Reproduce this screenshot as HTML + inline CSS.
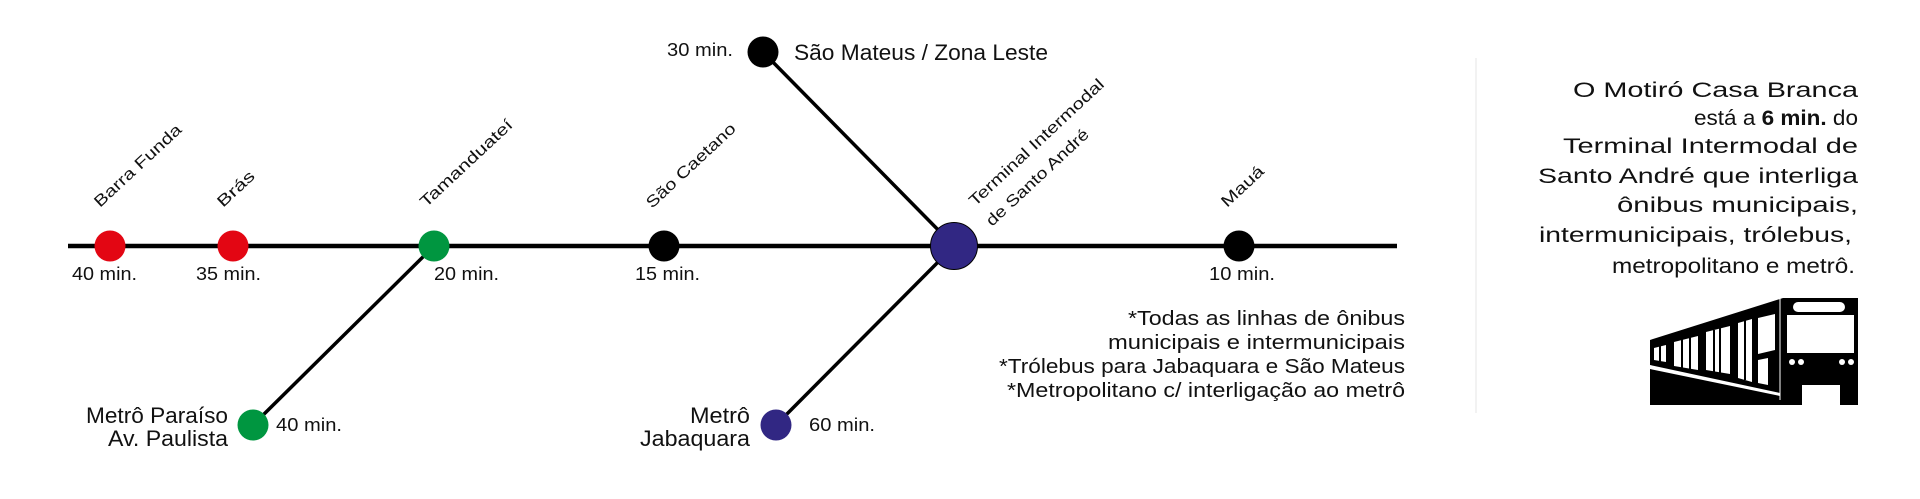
<!DOCTYPE html>
<html><head><meta charset="utf-8"><style>
html,body{margin:0;padding:0;background:#fff;}
svg{display:block;}
text{font-family:"Liberation Sans",sans-serif;fill:#111;}
</style></head><body>
<svg width="1920" height="499" viewBox="0 0 1920 499" xmlns="http://www.w3.org/2000/svg">
<g stroke="#000" stroke-width="3.5">
<line x1="434" y1="246" x2="253" y2="425"/>
<line x1="954" y1="246" x2="776" y2="425"/>
<line x1="954" y1="246" x2="763" y2="52"/>
</g>
<line x1="68" y1="246" x2="1397" y2="246" stroke="#000" stroke-width="4.5"/>
<circle cx="110" cy="246" r="15.5" fill="#e30613"/>
<circle cx="233" cy="246" r="15.5" fill="#e30613"/>
<circle cx="434" cy="246" r="15.5" fill="#009640"/>
<circle cx="664" cy="246" r="15.5" fill="#000"/>
<circle cx="1239" cy="246" r="15.5" fill="#000"/>
<circle cx="763" cy="52" r="15.5" fill="#000"/>
<circle cx="253" cy="425" r="15.5" fill="#009640"/>
<circle cx="776" cy="425" r="15.5" fill="#312783"/>
<circle cx="954" cy="246" r="23.5" fill="#312783" stroke="#000" stroke-width="1"/>

<g font-size="18">
<text x="72" y="280" textLength="65" lengthAdjust="spacingAndGlyphs">40 min.</text>
<text x="196" y="280" textLength="65" lengthAdjust="spacingAndGlyphs">35 min.</text>
<text x="434" y="280" textLength="65" lengthAdjust="spacingAndGlyphs">20 min.</text>
<text x="635" y="280" textLength="65" lengthAdjust="spacingAndGlyphs">15 min.</text>
<text x="1209" y="280" textLength="66" lengthAdjust="spacingAndGlyphs">10 min.</text>
<text x="667" y="56" textLength="66" lengthAdjust="spacingAndGlyphs">30 min.</text>
<text x="276" y="431" textLength="66" lengthAdjust="spacingAndGlyphs">40 min.</text>
<text x="809" y="431" textLength="66" lengthAdjust="spacingAndGlyphs">60 min.</text>
</g>
<g font-size="22">
<text x="794" y="60" textLength="254" lengthAdjust="spacingAndGlyphs">São Mateus / Zona Leste</text>
<text x="228" y="423" text-anchor="end" textLength="142" lengthAdjust="spacingAndGlyphs">Metrô Paraíso</text>
<text x="228" y="446" text-anchor="end" textLength="120" lengthAdjust="spacingAndGlyphs">Av. Paulista</text>
<text x="750" y="423" text-anchor="end" textLength="60" lengthAdjust="spacingAndGlyphs">Metrô</text>
<text x="750" y="446" text-anchor="end" textLength="110" lengthAdjust="spacingAndGlyphs">Jabaquara</text>
</g>
<g font-size="16" fill="#222">
<text transform="translate(100,208) rotate(-43)" textLength="113" lengthAdjust="spacingAndGlyphs">Barra Funda</text>
<text transform="translate(223,208) rotate(-43)" textLength="45" lengthAdjust="spacingAndGlyphs">Brás</text>
<text transform="translate(426,208) rotate(-43)" textLength="120" lengthAdjust="spacingAndGlyphs">Tamanduateí</text>
<text transform="translate(652,209) rotate(-43)" textLength="116" lengthAdjust="spacingAndGlyphs">São Caetano</text>
<text transform="translate(1227,208) rotate(-43)" textLength="52" lengthAdjust="spacingAndGlyphs">Mauá</text>
<text transform="translate(975,207) rotate(-43)" textLength="178" lengthAdjust="spacingAndGlyphs">Terminal Intermodal</text>
<text transform="translate(992,227) rotate(-43)" textLength="134" lengthAdjust="spacingAndGlyphs">de Santo André</text>
</g>
<g font-size="20" text-anchor="end">
<text x="1405" y="325" textLength="277" lengthAdjust="spacingAndGlyphs">*Todas as linhas de ônibus</text>
<text x="1405" y="349" textLength="297" lengthAdjust="spacingAndGlyphs">municipais e intermunicipais</text>
<text x="1405" y="373" textLength="406" lengthAdjust="spacingAndGlyphs">*Trólebus para Jabaquara e São Mateus</text>
<text x="1405" y="397" textLength="398" lengthAdjust="spacingAndGlyphs">*Metropolitano c/ interligação ao metrô</text>
</g>
<line x1="1476" y1="58" x2="1476" y2="413" stroke="#e4e4e4" stroke-width="1"/>
<g font-size="21" text-anchor="end">
<text x="1858" y="97" textLength="285" lengthAdjust="spacingAndGlyphs">O Motiró Casa Branca</text>
<text x="1858" y="125" textLength="164" lengthAdjust="spacingAndGlyphs">está a <tspan font-weight="bold">6 min.</tspan> do</text>
<text x="1858" y="153" textLength="295" lengthAdjust="spacingAndGlyphs">Terminal Intermodal de</text>
<text x="1858" y="183" textLength="320" lengthAdjust="spacingAndGlyphs">Santo André que interliga</text>
<text x="1858" y="212" textLength="241" lengthAdjust="spacingAndGlyphs">ônibus municipais,</text>
<text x="1852" y="242" textLength="313" lengthAdjust="spacingAndGlyphs">intermunicipais, trólebus,</text>
<text x="1855" y="273" textLength="243" lengthAdjust="spacingAndGlyphs">metropolitano e metrô.</text>
</g>
<g transform="translate(1640,290)">
<polygon points="10,50 143,8 218,8 218,115 10,115" fill="#000"/>
<polygon points="10,75 140,103 140,106 10,79" fill="#fff"/>
<rect x="147" y="25" width="67" height="38" fill="#fff"/>
<rect x="153" y="12" width="52" height="10" rx="5" fill="#fff"/>
<circle cx="152" cy="72" r="3" fill="#fff"/><circle cx="161" cy="72" r="3" fill="#fff"/>
<circle cx="202" cy="72" r="3" fill="#fff"/><circle cx="211" cy="72" r="3" fill="#fff"/>
<rect x="162" y="95" width="38" height="20" fill="#fff"/>
<line x1="140" y1="8" x2="140" y2="110" stroke="#fff" stroke-width="1"/>
<g fill="#fff">
<polygon points="14,58 26,55 26,72 14,70"/>
<polygon points="34,52 58,46 58,80 34,76"/>
<polygon points="66,42 90,36 90,84 66,80"/>
<polygon points="98,33 112,29 112,92 98,88"/>
<polygon points="118,28 135,24 135,60 118,64"/>
<polygon points="118,70 128,68 128,95 118,93"/>
</g>
<g stroke="#000" stroke-width="2">
<line x1="20" y1="55" x2="20" y2="72"/><line x1="42" y1="48" x2="42" y2="78"/><line x1="50" y1="46" x2="50" y2="79"/>
<line x1="74" y1="40" x2="74" y2="82"/><line x1="80" y1="38" x2="80" y2="83"/><line x1="105" y1="30" x2="105" y2="90"/>
</g>
</g>
</svg>
</body></html>
